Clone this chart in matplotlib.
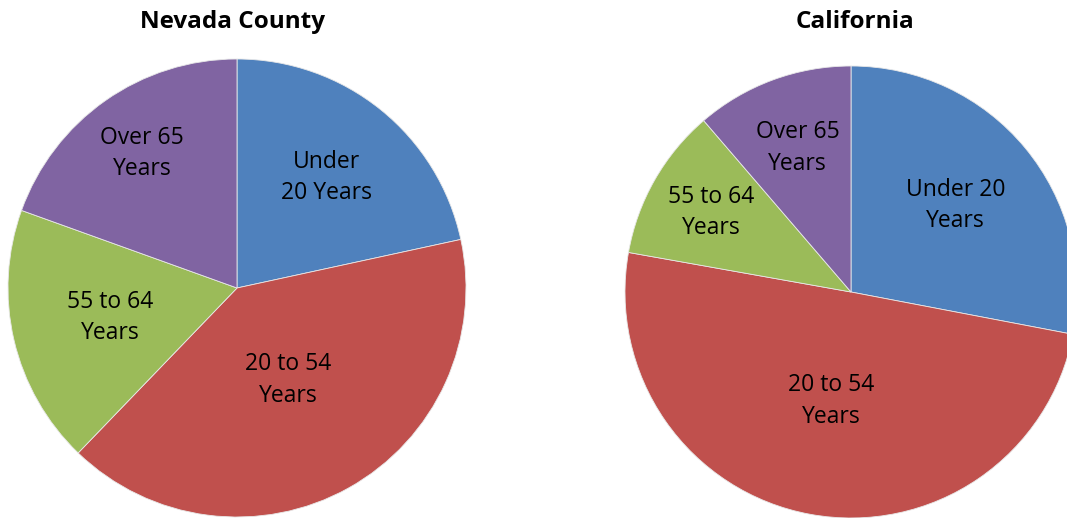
import numpy as np
import matplotlib
matplotlib.use("Agg")
import matplotlib.pyplot as plt

plt.rcParams['font.family'] = ['Open Sans', 'DejaVu Sans']

categories = ["Under\n20 Years", "20 to 54\nYears", "55 to 64\nYears", "Over 65\nYears"]
ca_labels = ["Under 20\nYears", "20 to 54\nYears", "55 to 64\nYears", "Over 65\nYears"]
nevada_values = [21.6, 40.6, 18.3, 19.5]
california_values = [28.0, 49.8, 10.9, 11.3]
colors = ["#4F81BD", "#C0504D", "#9BBB59", "#8064A2"]

W, H = 1067, 518
fig = plt.figure(figsize=(W / 100, H / 100), dpi=100)


def make_pie(cx, cy, r, values, labels, label_r, title, tx):
    ax = fig.add_axes([(cx - r) / W, (H - cy - r) / H, 2 * r / W, 2 * r / H])
    wedges, _ = ax.pie(values, colors=colors, startangle=90, counterclock=False,
                       radius=1.0, wedgeprops=dict(edgecolor="#e8e8e8", linewidth=0.6))
    for w, lab, lr in zip(wedges, labels, label_r):
        mid = np.deg2rad((w.theta1 + w.theta2) / 2)
        ax.text(lr * np.cos(mid), lr * np.sin(mid), lab, ha="center", va="center",
                fontsize=16.5, color="black", linespacing=1.4)
    ax.set_xlim(-1, 1)
    ax.set_ylim(-1, 1)
    ax.set_aspect("equal")
    ax.axis("off")
    fig.text(tx / W, 1 - 22 / H, title, ha="center", va="center",
             fontsize=17.5, fontweight="bold")


make_pie(237, 288, 229, nevada_values, categories, [0.62, 0.46, 0.57, 0.72],
         "Nevada County", 232)
make_pie(851, 292, 226, california_values, ca_labels, [0.60, 0.49, 0.71, 0.68],
         "California", 855)

fig.savefig("out.png", dpi=100)
